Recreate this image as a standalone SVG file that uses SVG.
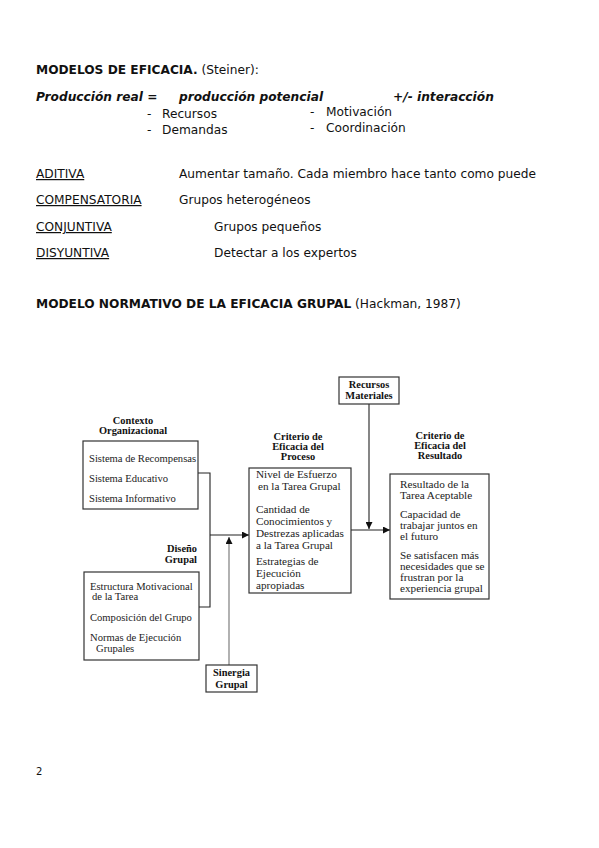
<svg xmlns="http://www.w3.org/2000/svg" width="599" height="848" viewBox="0 0 599 848">
<defs>
<marker id="arr" viewBox="0 0 10 10" refX="10" refY="5" markerWidth="10" markerHeight="7" markerUnits="userSpaceOnUse" orient="auto">
<path d="M0,0 L10,5 L0,10 z" fill="#111"/>
</marker>
</defs>
<style>
.s{font-family:"DejaVu Sans",sans-serif;font-size:12.2px;fill:#111}
.b{font-weight:bold}
.bi{font-weight:bold;font-style:italic}
.u{text-decoration:underline}
.t{font-family:"Liberation Serif",serif;font-size:10.6px;fill:#222}
.t2{font-family:"Liberation Serif",serif;font-size:11.2px;fill:#222}
.tb{font-family:"Liberation Serif",serif;font-size:10.4px;font-weight:bold;fill:#111}
.box{fill:#fff;stroke:#333;stroke-width:1.2}
.ln{fill:none;stroke:#222;stroke-width:1.1}
.gl{fill:none;stroke:#888;stroke-width:1.3}
</style>
<rect width="599" height="848" fill="#fff"/>

<text class="s" x="36" y="74"><tspan class="b">MODELOS DE EFICACIA.</tspan> (Steiner):</text>
<text class="s bi" x="36" y="101">Producción real =</text>
<text class="s bi" x="179" y="101">producción potencial</text>
<text class="s bi" x="393" y="101">+/- interacción</text>
<text class="s" x="147" y="118">-</text><text class="s" x="162" y="118">Recursos</text>
<text class="s" x="147" y="134">-</text><text class="s" x="162" y="134">Demandas</text>
<text class="s" x="310" y="116">-</text><text class="s" x="326" y="116">Motivación</text>
<text class="s" x="310" y="132">-</text><text class="s" x="326" y="132">Coordinación</text>

<text class="s u" x="36" y="178">ADITIVA</text>
<text class="s" x="179" y="178">Aumentar tamaño. Cada miembro hace tanto como puede</text>
<text class="s u" x="36" y="204">COMPENSATORIA</text>
<text class="s" x="179" y="204">Grupos heterogéneos</text>
<text class="s u" x="36" y="231">CONJUNTIVA</text>
<text class="s" x="214" y="231">Grupos pequeños</text>
<text class="s u" x="36" y="257">DISYUNTIVA</text>
<text class="s" x="214" y="257">Detectar a los expertos</text>

<text class="s" x="36" y="308"><tspan class="b">MODELO NORMATIVO DE LA EFICACIA GRUPAL</tspan> (Hackman, 1987)</text>

<g id="connectors">
<polyline class="ln" points="198,473 210,473 210,607 199,607"/>
<line class="ln" x1="210" y1="535" x2="249" y2="535" marker-end="url(#arr)"/>
<line class="gl" x1="229" y1="665" x2="229" y2="537" marker-end="url(#arr)"/>
<line class="ln" x1="369" y1="404" x2="369" y2="529" marker-end="url(#arr)"/>
<line class="ln" x1="351" y1="530" x2="390" y2="530" marker-end="url(#arr)"/>
</g>

<g id="recursos">
<rect class="box" x="339" y="377" width="60" height="27"/>
<text class="tb" x="369" y="388" text-anchor="middle">Recursos</text>
<text class="tb" x="369" y="399" text-anchor="middle">Materiales</text>
</g>

<g id="contexto">
<text class="tb" x="133" y="424" text-anchor="middle">Contexto</text>
<text class="tb" x="133" y="434" text-anchor="middle">Organizacional</text>
<rect class="box" x="83" y="441" width="115" height="68"/>
<text class="t" x="89" y="462">Sistema de Recompensas</text>
<text class="t" x="89" y="482">Sistema Educativo</text>
<text class="t" x="89" y="502">Sistema Informativo</text>
</g>

<g id="diseno">
<text class="tb" x="197" y="552" text-anchor="end">Diseño</text>
<text class="tb" x="197" y="563" text-anchor="end">Grupal</text>
<rect class="box" x="84" y="572" width="115" height="88"/>
<text class="t" x="90" y="590">Estructura Motivacional</text>
<text class="t" x="92" y="600">de la Tarea</text>
<text class="t" x="90" y="621">Composición del Grupo</text>
<text class="t" x="90" y="641">Normas de Ejecución</text>
<text class="t" x="96" y="652">Grupales</text>
</g>

<g id="sinergia">
<rect class="box" x="206" y="665" width="51" height="27"/>
<text class="tb" x="231.5" y="676" text-anchor="middle">Sinergia</text>
<text class="tb" x="231.5" y="688" text-anchor="middle">Grupal</text>
</g>

<g id="proceso">
<text class="tb" x="298" y="440" text-anchor="middle">Criterio de</text>
<text class="tb" x="298" y="450" text-anchor="middle">Eficacia del</text>
<text class="tb" x="298" y="460" text-anchor="middle">Proceso</text>
<rect class="box" x="249" y="468" width="102" height="125"/>
<text class="t2" x="256" y="478">Nivel de Esfuerzo</text>
<text class="t2" x="258" y="490">en la Tarea Grupal</text>
<text class="t2" x="256" y="513">Cantidad de</text>
<text class="t2" x="256" y="525">Conocimientos y</text>
<text class="t2" x="256" y="537">Destrezas aplicadas</text>
<text class="t2" x="256" y="549">a la Tarea Grupal</text>
<text class="t2" x="256" y="565">Estrategias de</text>
<text class="t2" x="256" y="577">Ejecución</text>
<text class="t2" x="256" y="589">apropiadas</text>
</g>

<g id="resultado">
<text class="tb" x="440" y="439" text-anchor="middle">Criterio de</text>
<text class="tb" x="440" y="449" text-anchor="middle">Eficacia del</text>
<text class="tb" x="440" y="459" text-anchor="middle">Resultado</text>
<rect class="box" x="390" y="474" width="99" height="125"/>
<text class="t2" x="400" y="488">Resultado de la</text>
<text class="t2" x="400" y="499">Tarea Aceptable</text>
<text class="t2" x="400" y="518">Capacidad de</text>
<text class="t2" x="400" y="529">trabajar juntos en</text>
<text class="t2" x="400" y="540">el futuro</text>
<text class="t2" x="400" y="559">Se satisfacen más</text>
<text class="t2" x="400" y="570">necesidades que se</text>
<text class="t2" x="400" y="581">frustran por la</text>
<text class="t2" x="400" y="592">experiencia grupal</text>
</g>

<text class="s" x="36" y="775" style="font-size:10px">2</text>
</svg>
